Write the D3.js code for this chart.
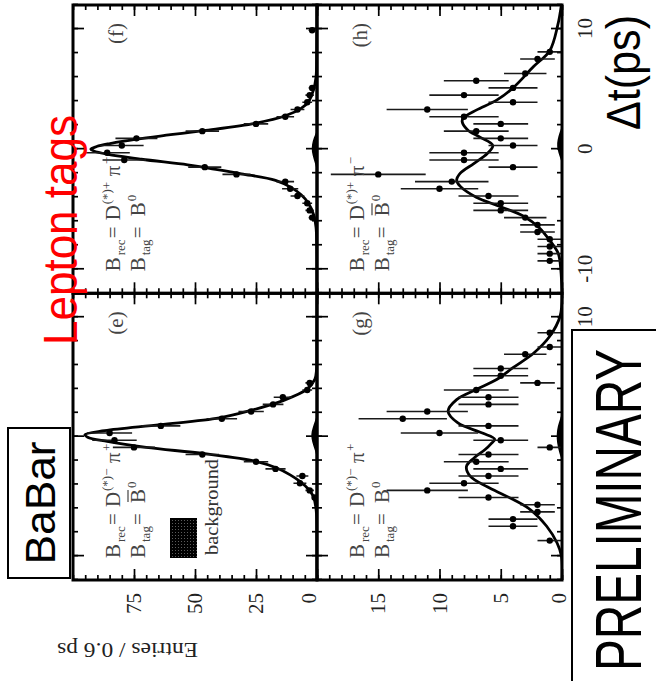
<!DOCTYPE html>
<html>
<head>
<meta charset="utf-8">
<script src="https://cdn.jsdelivr.net/npm/d3@7"></script>
<style>
  body { margin: 0; background: #fff; }
  svg { display: block; }
</style>
</head>
<body>
<svg id="chart" width="656" height="681"></svg>
<script>
// ---- Δt bin centres (ps) and entries per 0.6 ps bin, one pair of arrays per panel ----
const dtE = [-5.1, -4.5, -3.9, -3.3, -2.7, -2.1, -1.5, -0.9, -0.3, 0.3, 0.9, 1.5, 2.1, 2.7, 3.3, 3.9, 4.5];
const nE  = [1, 3, 7, 6, 17, 25, 47, 75, 83, 85, 64, 39, 27, 18, 14, 4, 3];

const dtF = [-5.7, -5.1, -4.5, -3.9, -3.3, -2.7, -2.1, -1.5, -0.9, -0.3, 0.3, 0.9, 1.5, 2.1, 2.7, 3.3, 3.9, 4.5, 5.1, 9.9];
const nF  = [2, 3, 4, 8, 11, 13, 33, 46, 79, 86, 80, 74, 47, 25, 13, 8, 4, 3, 2, 2];

const dtG = [-8.7, -7.5, -6.9, -6.3, -5.7, -5.1, -4.5, -3.9, -3.3, -2.7, -2.1, -1.5, -0.9, -0.3, 0.3, 0.9, 1.5, 2.1, 2.7, 3.3, 3.9, 4.5, 5.1, 5.7, 6.9, 7.5, 8.7];
const nG  = [1, 4, 4, 2, 2, 6, 11, 8, 6, 5, 7, 6, 1, 5, 10, 6, 13, 11, 6, 6, 7, 2, 5, 5, 3, 1, 1];

const dtH = [-9.3, -8.7, -8.1, -7.5, -6.9, -6.3, -5.7, -5.1, -4.5, -3.9, -3.3, -2.7, -2.1, -1.5, -0.9, -0.3, 0.3, 0.9, 1.5, 2.1, 2.7, 3.3, 3.9, 4.5, 5.1, 5.7, 6.3, 7.5, 8.1];
const nH  = [1, 1, 1, 1, 2, 2, 3, 5, 5, 6, 10, 9, 15, 4, 8, 8, 4, 5, 7, 5, 8, 11, 4, 8, 4, 7, 3, 2, 1];

// ---- fitted PDF, sampled as [Δt, entries] ----
const fitE = [[-12,0],[-8,0.05],[-6.5,0.2],[-5.9,0.5],[-5,1.5],[-4.4,3.5],[-3.75,7],[-3.2,11],[-2.63,16.5],[-2.07,25],[-1.43,46],[-0.9,70],[-0.4,86],[-0.05,94],[0.17,95.1],[0.5,87],[1.0,64.3],[1.57,40],[2.2,27],[2.97,14.5],[3.95,4.2],[4.8,0.9],[5.6,0.2],[8,0.05],[12,0]];
const fitF = [[-12,0],[-8,0.1],[-6.5,0.4],[-5.5,1.3],[-4.5,3.5],[-3.8,6.5],[-3.2,10.5],[-2.6,17],[-2.05,31],[-1.6,44],[-1.3,53],[-0.84,72],[-0.42,86],[-0.15,91.5],[0,92.7],[0.22,90.3],[0.47,84.8],[0.84,73.9],[1.2,60],[1.54,46.6],[2.15,25.4],[2.8,12.7],[3.4,6.5],[3.92,3.6],[4.9,1.5],[6,0.4],[8,0.1],[12,0]];
const fitG = [[-12,0],[-10,0.05],[-8.9,0.4],[-7.5,1.25],[-6.1,2.6],[-5.0,4.5],[-4.2,6.1],[-3.3,7.5],[-2.5,7.8],[-1.8,7.2],[-1.1,6.3],[-0.6,5.8],[-0.2,5.5],[0.3,6.5],[1.15,8.5],[2.13,9.3],[3.1,8.6],[3.95,7.0],[4.8,5.3],[5.77,4.0],[7.0,2.3],[8.4,1.0],[10.1,0.15],[12,0]];
const fitH = [[-12,0],[-10,0.1],[-8.7,0.3],[-7.6,1.0],[-6.5,1.9],[-5.6,3.1],[-4.8,5.0],[-4.0,7.0],[-3.1,8.3],[-2.6,8.6],[-2.0,8.3],[-1.2,7.2],[-0.36,6.1],[0.3,5.65],[1.0,6.7],[1.6,7.7],[2.3,8.15],[2.6,8.05],[3.25,7.0],[4.1,5.3],[5.1,4.0],[6.9,2.3],[8.2,1.0],[10.3,0.35],[12,0.05]];

// ---- background component, [Δt, entries] ----
const bkgE = [[-1.8,0],[-1.1,0.9],[-0.4,2.1],[0.15,2.5],[0.7,1.9],[1.3,0.8],[1.9,0]];
const bkgF = [[-1.8,0],[-1.2,0.8],[-0.5,1.9],[0.1,2.3],[0.7,1.8],[1.2,0.8],[1.6,0]];
const bkgG = [[-2.0,0],[-1.3,0.25],[-0.5,0.42],[0.2,0.45],[0.9,0.35],[1.5,0.15],[2.0,0]];
const bkgH = [[-1.2,0],[-0.6,0.2],[0,0.38],[0.5,0.42],[1.1,0.3],[1.6,0.12],[2.0,0]];

// ---- axis ticks and labels ----
const dtMajor = [-10, 0, 10];
const dtMinor = [-12, -10, -8, -6, -4, -2, 0, 2, 4, 6, 8, 10, 12];
const topMajor = [0, 25, 50, 75];
const topMinor = [0, 5, 10, 15, 20, 25, 30, 35, 40, 45, 50, 55, 60, 65, 70, 75, 80, 85, 90, 95, 100];
const botMajor = [0, 5, 10, 15];
const botMinor = [0, 1, 2, 3, 4, 5, 6, 7, 8, 9, 10, 11, 12, 13, 14, 15, 16, 17, 18, 19, 20];

const SERIF = "'Liberation Serif','Times New Roman',serif";
const SANS = "'Liberation Sans',Arial,sans-serif";

// the figure is laid out upright, then turned a quarter turn anticlockwise
const svg = d3.select("#chart");
const defs = svg.append("defs");
const pat = defs.append("pattern").attr("id", "bkgFill")
  .attr("width", 3).attr("height", 3).attr("patternUnits", "userSpaceOnUse");
pat.append("rect").attr("width", 3).attr("height", 3).attr("fill", "#000");
pat.append("rect").attr("x", 1).attr("y", 1).attr("width", 0.7).attr("height", 0.7).attr("fill", "#bbb");

const root = svg.append("g").attr("transform", "translate(0,681) rotate(-90)");

const panels = [
  { id: "e", box: [101, 387.7, 73, 317],   ymax: 100, dt: dtE, n: nE, fit: fitE, bkg: bkgE,
    yMaj: topMajor, yMin: topMinor, leftLabels: true,  bottomLabels: false,
    d: "\u2212", pi: "+", bar: true,  tag: "(e)", legend: true },
  { id: "f", box: [387.7, 676, 73, 317],   ymax: 100, dt: dtF, n: nF, fit: fitF, bkg: bkgF,
    yMaj: topMajor, yMin: topMinor, leftLabels: false, bottomLabels: false,
    d: "+", pi: "\u2212", bar: false, tag: "(f)" },
  { id: "g", box: [101, 387.7, 317, 562],  ymax: 20, dt: dtG, n: nG, fit: fitG, bkg: bkgG,
    yMaj: botMajor, yMin: botMinor, leftLabels: true,  bottomLabels: true,
    d: "\u2212", pi: "+", bar: false, tag: "(g)" },
  { id: "h", box: [387.7, 676, 317, 562],  ymax: 20, dt: dtH, n: nH, fit: fitH, bkg: bkgH,
    yMaj: botMajor, yMin: botMinor, leftLabels: false, bottomLabels: true,
    d: "+", pi: "\u2212", bar: true,  tag: "(h)" }
];

function styleAxis(sel) {
  sel.select(".domain").remove();
  sel.selectAll(".tick line").attr("stroke", "#000").attr("stroke-width", 1.7);
  sel.selectAll(".tick text").attr("font-family", SERIF).attr("font-size", 21).attr("fill", "#222");
}

panels.forEach(p => {
  const [x0, x1, y0, y1] = p.box;
  const x = d3.scaleLinear().domain([-12, 12]).range([x0, x1]);
  const y = d3.scaleLinear().domain([0, p.ymax]).range([y1, y0]);
  const g = root.append("g").attr("class", "panel-" + p.id);

  defs.append("clipPath").attr("id", "clip-" + p.id)
    .append("rect").attr("x", x0).attr("y", y0).attr("width", x1 - x0).attr("height", y1 - y0);

  // ticks on all four sides, pointing inward
  g.append("g").attr("transform", `translate(0,${y1})`)
    .call(d3.axisBottom(x).tickValues(dtMinor).tickSizeInner(-5).tickSizeOuter(0).tickFormat(""))
    .call(styleAxis);
  g.append("g").attr("transform", `translate(0,${y1})`)
    .call(d3.axisBottom(x).tickValues(dtMajor).tickSizeInner(-11).tickSizeOuter(0).tickPadding(15)
      .tickFormat(p.bottomLabels ? (d => String(d)) : ""))
    .call(styleAxis);
  g.append("g").attr("transform", `translate(0,${y0})`)
    .call(d3.axisTop(x).tickValues(dtMinor).tickSizeInner(-5).tickSizeOuter(0).tickFormat(""))
    .call(styleAxis);
  g.append("g").attr("transform", `translate(0,${y0})`)
    .call(d3.axisTop(x).tickValues(dtMajor).tickSizeInner(-11).tickSizeOuter(0).tickFormat(""))
    .call(styleAxis);

  g.append("g").attr("transform", `translate(${x0},0)`)
    .call(d3.axisLeft(y).tickValues(p.yMin).tickSizeInner(-5).tickSizeOuter(0).tickFormat(""))
    .call(styleAxis);
  const yl = g.append("g").attr("transform", `translate(${x0},0)`)
    .call(d3.axisLeft(y).tickValues(p.yMaj).tickSizeInner(-11).tickSizeOuter(0).tickPadding(13)
      .tickFormat(p.leftLabels ? (d => String(d)) : ""))
    .call(styleAxis);
  // lift the zero label clear of the panel edge
  yl.selectAll(".tick").filter(d => d === 0).select("text")
    .attr("dy", p.ymax === 100 ? "-0.05em" : "0.15em");
  g.append("g").attr("transform", `translate(${x1},0)`)
    .call(d3.axisRight(y).tickValues(p.yMin).tickSizeInner(-5).tickSizeOuter(0).tickFormat(""))
    .call(styleAxis);
  g.append("g").attr("transform", `translate(${x1},0)`)
    .call(d3.axisRight(y).tickValues(p.yMaj).tickSizeInner(-11).tickSizeOuter(0).tickFormat(""))
    .call(styleAxis);

  const plot = g.append("g").attr("clip-path", `url(#clip-${p.id})`);

  // background component
  plot.append("path").datum(p.bkg)
    .attr("d", d3.area().x(d => x(d[0])).y0(y(0)).y1(d => y(d[1])).curve(d3.curveBasis))
    .attr("fill", "#000");

  // fit
  plot.append("path").datum(p.fit)
    .attr("d", d3.line().x(d => x(d[0])).y(d => y(d[1])).curve(d3.curveCatmullRom.alpha(0.5)))
    .attr("fill", "none").attr("stroke", "#000").attr("stroke-width", 2.8);

  // data with Poisson error bars
  const pts = p.dt.map((t, i) => ({ t, n: p.n[i] }));
  plot.selectAll("line.err").data(pts).join("line").attr("class", "err")
    .attr("x1", d => x(d.t)).attr("x2", d => x(d.t))
    .attr("y1", d => y(Math.max(0, d.n - Math.sqrt(d.n))))
    .attr("y2", d => y(d.n + Math.sqrt(d.n)))
    .attr("stroke", "#1a1a1a").attr("stroke-width", 1.6);
  plot.selectAll("circle.pt").data(pts).join("circle").attr("class", "pt")
    .attr("cx", d => x(d.t)).attr("cy", d => y(d.n)).attr("r", 3.2).attr("fill", "#000");

  // decay-mode labels
  const lab = g.append("g").attr("fill", "#444").attr("font-family", SERIF);
  const bx = x0 + 22, b1 = y0 + 47, b2 = y0 + 72;
  const seg = (t, dx, by, size) => lab.append("text").attr("x", bx + dx).attr("y", by).attr("font-size", size).text(t);
  seg("B", 0, b1, 21); seg("rec", 16, b1 + 5, 13); seg("=", 33, b1, 21);
  seg("D", 51, b1, 21); seg("(*)" + p.d, 67, b1 - 9, 13);
  seg("\u03c0", 95, b1, 21); seg(p.pi, 107, b1 - 9, 13);
  seg("B", 0, b2, 21); seg("tag", 16, b2 + 5, 13); seg("=", 33, b2, 21);
  seg("B", 55, b2, 21); seg("0", 70, b2 - 9, 13);
  if (p.bar) {
    lab.append("line").attr("x1", bx + 56).attr("x2", bx + 68)
      .attr("y1", b2 - 17).attr("y2", b2 - 17).attr("stroke", "#444").attr("stroke-width", 1.2);
  }
  lab.append("text").attr("x", x1 - 18).attr("y", y0 + 50).attr("text-anchor", "end")
    .attr("font-size", 21).text(p.tag);

  if (p.legend) {
    g.append("rect").attr("x", x0 + 22).attr("y", y0 + 97).attr("width", 40).attr("height", 27)
      .attr("fill", "url(#bkgFill)");
    g.append("text").attr("x", x0 + 25).attr("y", y0 + 145).attr("font-family", SERIF)
      .attr("font-size", 19).attr("fill", "#333").attr("textLength", 96)
      .attr("lengthAdjust", "spacingAndGlyphs").text("background");
  }
});

// panel frames
panels.forEach(p => {
  const [x0, x1, y0, y1] = p.box;
  root.append("rect").attr("x", x0).attr("y", y0).attr("width", x1 - x0).attr("height", y1 - y0)
    .attr("fill", "none").attr("stroke", "#000").attr("stroke-width", 3);
});

// axis titles
root.append("text").attr("transform", "translate(38,198) rotate(-90)")
  .attr("font-family", SERIF).attr("font-size", 21).attr("fill", "#222")
  .attr("textLength", 141).attr("lengthAdjust", "spacingAndGlyphs")
  .text("Entries / 0.6 ps");
root.append("text").attr("x", 551).attr("y", 640)
  .attr("font-family", SANS).attr("font-size", 48).attr("fill", "#000")
  .attr("textLength", 115).attr("lengthAdjust", "spacingAndGlyphs")
  .text("\u0394t(ps)");

// experiment tag
root.append("rect").attr("x", 103).attr("y", 8).attr("width", 150).attr("height", 62)
  .attr("fill", "#fff").attr("stroke", "#000").attr("stroke-width", 2);
root.append("text").attr("x", 178).attr("y", 55).attr("text-anchor", "middle")
  .attr("font-family", SANS).attr("font-size", 42).attr("fill", "#000")
  .attr("textLength", 123).attr("lengthAdjust", "spacingAndGlyphs").text("BaBar");

// preliminary box
root.append("rect").attr("x", -10).attr("y", 572).attr("width", 361).attr("height", 100)
  .attr("fill", "#fff").attr("stroke", "#000").attr("stroke-width", 2);
root.append("text").attr("x", 10).attr("y", 641)
  .attr("font-family", SANS).attr("font-size", 64).attr("fill", "#000")
  .attr("textLength", 322).attr("lengthAdjust", "spacingAndGlyphs").text("PRELIMINARY");

// tagging category
root.append("text").attr("x", 336).attr("y", 77)
  .attr("font-family", SANS).attr("font-size", 48).attr("fill", "#ff0000")
  .attr("textLength", 230).attr("lengthAdjust", "spacingAndGlyphs").text("Lepton tags");
</script>
</body>
</html>
